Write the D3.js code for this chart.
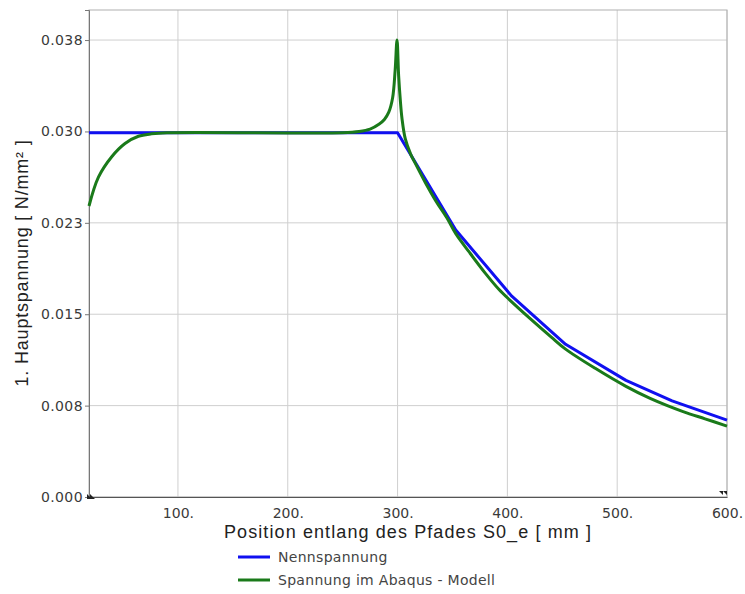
<!DOCTYPE html>
<html>
<head>
<meta charset="utf-8">
<script src="https://cdn.jsdelivr.net/npm/d3@7"></script>
<style>
  body { margin: 0; background: #fff; }
  svg { display: block; }
</style>
</head>
<body>
<div id="chart"></div>
<script>
// data
var blueX = [19, 300, 353, 404, 453, 508, 550, 600];
var blueY = [0.0303, 0.0303, 0.0222, 0.0167, 0.0127, 0.0097, 0.0080, 0.0064];

var greenX = [19, 27.6, 39.7, 51.8, 64, 76, 90, 250, 265, 275, 283, 288, 292, 295.5, 297.8, 299.5,
              301, 302.5, 304, 307, 312, 317, 325, 335, 345, 353, 365, 380, 392, 402, 420, 440, 453, 480, 508, 530, 560, 580, 600];
var greenY = [0.0242, 0.0266, 0.0283, 0.0294, 0.0300, 0.0302, 0.0303, 0.0303, 0.0304, 0.0306, 0.0310, 0.0314, 0.0320, 0.0332, 0.0355, 0.0380,
              0.0350, 0.0330, 0.0315, 0.0298, 0.0285, 0.0276, 0.0262, 0.0246, 0.0232, 0.0219, 0.0204, 0.0186, 0.0173, 0.0164, 0.0149, 0.0133, 0.0123, 0.0107, 0.0092, 0.0082, 0.0071, 0.0065, 0.0059];

var xTicks = [100, 200, 300, 400, 500, 600];
var xTickLabels = ['100.', '200.', '300.', '400.', '500.', '600.'];
var yTicks = [0, 0.0076, 0.0152, 0.0228, 0.0304, 0.038];
var yTickLabels = ['0.000', '0.008', '0.015', '0.023', '0.030', '0.038'];

var seriesNames = ['Nennspannung', 'Spannung im Abaqus - Modell'];
var seriesColors = ['#1010f0', '#1a7a1a'];

(function() {
    var W = 745, H = 594;
    var left = 89, right = 727, top = 10, bottom = 497;

    var svg = d3.select('#chart').append('svg')
        .attr('width', W)
        .attr('height', H);

    var x = d3.scaleLinear().domain([19, 600]).range([left, right]);
    var y = d3.scaleLinear().domain([0, 0.0405]).range([bottom, top]);

    // grid
    var grid = svg.append('g');
    grid.selectAll('.vg').data(xTicks).enter().append('line')
        .attr('x1', d => x(d)).attr('x2', d => x(d))
        .attr('y1', top).attr('y2', bottom)
        .attr('stroke', '#cfcfcf').attr('stroke-width', 1);
    grid.selectAll('.hg').data(yTicks).enter().append('line')
        .attr('x1', left).attr('x2', right)
        .attr('y1', d => y(d)).attr('y2', d => y(d))
        .attr('stroke', '#cfcfcf').attr('stroke-width', 1);

    // frame
    svg.append('rect')
        .attr('x', left).attr('y', top)
        .attr('width', right - left).attr('height', bottom - top)
        .attr('fill', 'none').attr('stroke', '#b0b0b0').attr('stroke-width', 1);

    // axes
    var xAxis = d3.axisBottom(x).tickValues(xTicks)
        .tickFormat((d, i) => xTickLabels[i]).tickSize(0).tickPadding(11);
    var gx = svg.append('g')
        .attr('transform', 'translate(0,' + bottom + ')')
        .call(xAxis);
    gx.select('.domain').attr('stroke', '#555');
    gx.selectAll('text')
        .attr('font-family', 'DejaVu Sans')
        .attr('font-size', 14)
        .attr('fill', '#3a3a3a');

    var yAxis = d3.axisLeft(y).tickValues(yTicks)
        .tickFormat((d, i) => yTickLabels[i]).tickSize(4).tickPadding(2);
    var gy = svg.append('g')
        .attr('transform', 'translate(' + left + ',0)')
        .call(yAxis);
    gy.select('.domain').attr('stroke', '#777');
    gy.selectAll('.tick line').attr('stroke', '#777');
    gy.selectAll('text')
        .attr('font-family', 'DejaVu Sans')
        .attr('font-size', 14)
        .attr('letter-spacing', 0.4)
        .attr('fill', '#3a3a3a');

    // small corner arrows
    svg.append('path')
        .attr('d', 'M' + (left - 2) + ',' + (bottom - 3) + 'l5,5l-5,0z M' + (left + 1) + ',' + (bottom - 3) + 'l5,5l-5,0z')
        .attr('fill', '#222');
    svg.append('path')
        .attr('d', 'M' + (right - 8) + ',' + (bottom - 6) + 'l4,4l0,-4z M' + (right - 4) + ',' + (bottom - 6) + 'l4,4l0,-4z')
        .attr('fill', '#222');

    // lines
    var blue = blueX.map((d, i) => [d, blueY[i]]);
    var green = greenX.map((d, i) => [d, greenY[i]]);

    var lineLin = d3.line().x(d => x(d[0])).y(d => y(d[1]));
    var lineSmooth = d3.line().x(d => x(d[0])).y(d => y(d[1])).curve(d3.curveCatmullRom.alpha(0.5));

    svg.append('path').datum(blue)
        .attr('d', lineLin)
        .attr('fill', 'none')
        .attr('stroke', seriesColors[0])
        .attr('stroke-width', 3)
        .attr('stroke-linejoin', 'round');

    svg.append('path').datum(green)
        .attr('d', lineSmooth)
        .attr('fill', 'none')
        .attr('stroke', seriesColors[1])
        .attr('stroke-width', 3)
        .attr('stroke-linejoin', 'round');

    // axis labels
    svg.append('text')
        .attr('x', 408).attr('y', 538)
        .attr('text-anchor', 'middle')
        .attr('font-family', 'Liberation Sans')
        .attr('font-size', 18)
        .attr('letter-spacing', 1.1)
        .attr('fill', '#222')
        .text('Position entlang des Pfades S0_e [ mm ]');

    svg.append('text')
        .attr('transform', 'translate(28,263) rotate(-90)')
        .attr('text-anchor', 'middle')
        .attr('font-family', 'Liberation Sans')
        .attr('font-size', 18)
        .attr('letter-spacing', 0.8)
        .attr('fill', '#222')
        .text('1. Hauptspannung [ N/mm² ]');

    // legend
    var legend = svg.append('g').attr('transform', 'translate(238,557)');
    seriesNames.forEach(function(name, i) {
        var row = legend.append('g').attr('transform', 'translate(0,' + (i * 23) + ')');
        row.append('line')
            .attr('x1', 0).attr('x2', 32)
            .attr('stroke', seriesColors[i])
            .attr('stroke-width', 3);
        row.append('text')
            .attr('x', 40).attr('y', 5)
            .attr('font-family', 'DejaVu Sans')
            .attr('font-size', 14)
            .attr('letter-spacing', 0.3)
            .attr('fill', '#444')
            .text(name);
    });
}());
</script>
</body>
</html>
